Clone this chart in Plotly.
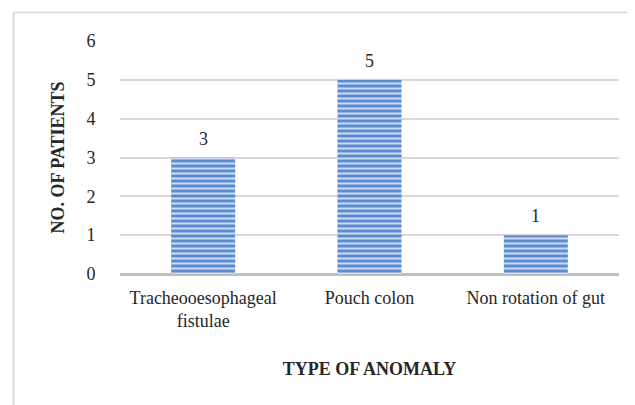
import plotly.graph_objects as go

categories = ["Tracheooesophageal<br>fistulae", "Pouch colon", "Non rotation of gut"]
patients = [3, 5, 1]
y_ticks = [0, 1, 2, 3, 4, 5, 6]

FONT = "Liberation Serif, Times New Roman, serif"
FS = 18

# page has an 8px body margin; figure sized/offset to compensate
W, H = 627, 397
L, R, T, B = 112, 16, 32.5, 130.5
PW = W - L - R
PH = H - T - B


def px(fx):
    return (fx - L) / PW


def py(fy):
    return (H - B - fy) / PH


fig = go.Figure()
fig.add_trace(go.Bar(
    x=categories,
    y=patients,
    marker=dict(
        color="#5b8cd1",
        line=dict(width=0),
        pattern=dict(shape="-", size=5, solidity=0.4,
                     fgcolor="#cddcf2", bgcolor="#5b8cd1", fillmode="replace"),
    ),
    width=0.385,
    hoverinfo="skip",
))

annotations = [
    dict(x=c, y=v, text=str(v), showarrow=False, xref="x", yref="y",
         yanchor="bottom", yshift=7,
         font=dict(family=FONT, size=FS, color="#262626"))
    for c, v in zip(categories, patients)
]

fig.update_layout(
    width=W, height=H,
    margin=dict(l=L, r=R, t=T, b=B, pad=0),
    paper_bgcolor="white",
    plot_bgcolor="white",
    showlegend=False,
    font=dict(family=FONT, color="#262626", size=FS),
    annotations=annotations,
    xaxis=dict(
        showgrid=False,
        showline=False,
        zeroline=False,
        ticks="outside", ticklen=7, tickcolor="rgba(0,0,0,0)",
        tickfont=dict(family=FONT, size=FS, color="#262626"),
        title=dict(text="<b>TYPE OF ANOMALY</b>", font=dict(family=FONT, size=FS, color="#262626"), standoff=32),
    ),
    yaxis=dict(
        range=[0, 6],
        tickvals=y_ticks,
        ticktext=[str(t) for t in y_ticks],
        showgrid=True, gridcolor="#d9d9d9", gridwidth=1.5,
        zeroline=True, zerolinecolor="#bfbfbf", zerolinewidth=3,
        showline=False,
        ticks="outside", ticklen=20, tickcolor="rgba(0,0,0,0)",
        tickfont=dict(family=FONT, size=FS, color="#262626"),
        title=dict(text="<b>NO. OF PATIENTS</b>", font=dict(family=FONT, size=FS, color="#262626"), standoff=17),
    ),
    shapes=[
        dict(type="line", xref="paper", yref="paper",
             x0=px(5.5), x1=px(W + 2),
             y0=py(4), y1=py(4),
             line=dict(color="#d9d9d9", width=1.5)),
        dict(type="line", xref="paper", yref="paper",
             x0=px(5.5), x1=px(5.5),
             y0=py(4), y1=py(H + 2),
             line=dict(color="#d9d9d9", width=2)),
    ],
)

fig.write_html("out.html")
